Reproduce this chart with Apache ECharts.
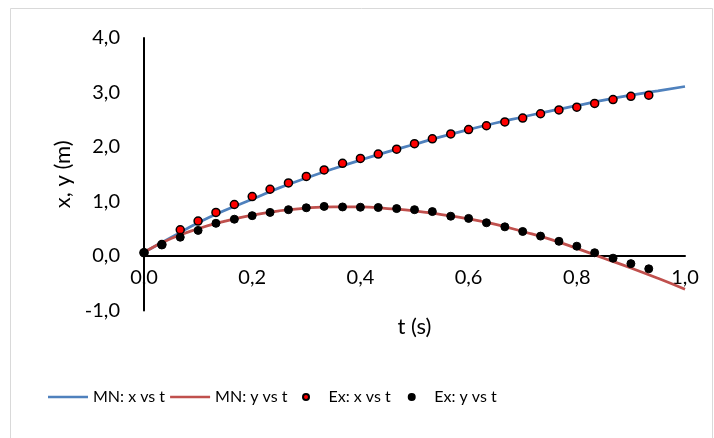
<!DOCTYPE html>
<html>
<head>
<meta charset="utf-8">
<title>x, y vs t</title>
<script src="https://cdn.jsdelivr.net/npm/echarts@6/dist/echarts.min.js"></script>
<style>
  html, body { margin: 0; padding: 0; background: #fff; }
  #chart { width: 714px; height: 438px; }
</style>
</head>
<body>
<div id="chart"></div>
<script>
// model curves (MN), sampled every 0.05 s
var tModel = [0, 0.05, 0.1, 0.15, 0.2, 0.25, 0.3, 0.35, 0.4, 0.45, 0.5,
              0.55, 0.6, 0.65, 0.7, 0.75, 0.8, 0.85, 0.9, 0.95, 1.0];
var xModel = [0.07, 0.34, 0.61, 0.84, 1.04, 1.25, 1.43, 1.60, 1.76, 1.91, 2.05,
              2.19, 2.32, 2.44, 2.55, 2.66, 2.76, 2.86, 2.95, 3.03, 3.11];
var yModel = [0.07, 0.32, 0.50, 0.64, 0.75, 0.83, 0.88, 0.90, 0.90, 0.87, 0.83,
              0.76, 0.68, 0.58, 0.45, 0.31, 0.14, -0.04, -0.22, -0.41, -0.61];

// experimental points (Ex), one frame every 1/30 s
var tExp = [0, 0.033, 0.067, 0.1, 0.133, 0.167, 0.2, 0.233, 0.267, 0.3,
            0.333, 0.367, 0.4, 0.433, 0.467, 0.5, 0.533, 0.567, 0.6, 0.633,
            0.667, 0.7, 0.733, 0.767, 0.8, 0.833, 0.867, 0.9, 0.933];
var xExp = [0.06, 0.21, 0.48, 0.64, 0.80, 0.945, 1.09, 1.225, 1.34, 1.46,
            1.58, 1.70, 1.79, 1.87, 1.96, 2.06, 2.15, 2.24, 2.32, 2.39,
            2.46, 2.53, 2.61, 2.68, 2.73, 2.80, 2.87, 2.93, 2.95];
var yExp = [0.06, 0.205, 0.345, 0.47, 0.60, 0.675, 0.74, 0.80, 0.85, 0.885,
            0.91, 0.90, 0.895, 0.89, 0.87, 0.85, 0.815, 0.73, 0.69, 0.61,
            0.535, 0.45, 0.365, 0.27, 0.18, 0.06, -0.04, -0.14, -0.235];

var seriesNames = ['MN: x vs t', 'MN: y vs t', 'Ex: x vs t', 'Ex: y vs t'];

function pairs(ts, vs) {
  return ts.map(function (t, i) { return [t, vs[i]]; });
}
function comma(v) {
  return v.toFixed(1).replace('.', ',');
}

var font = 'Lato';
var lineIcon = 'path://M0,0H40V2.5H0Z';
var legendText = { fontSize: 16, color: '#000', fontFamily: font };
var chart = echarts.init(document.getElementById('chart'));

var option = {
  animation: false,
  backgroundColor: '#fff',
  textStyle: { fontFamily: font },
  graphic: [{
    type: 'rect',
    shape: { x: 10.5, y: 8.5, width: 702, height: 440 },
    style: { fill: 'none', stroke: '#d9d9d9', lineWidth: 1 },
    silent: true
  }],
  grid: { left: 144, right: 29, top: 38, bottom: 127.5 },
  xAxis: {
    type: 'value',
    min: 0, max: 1, interval: 0.2,
    position: 'bottom',
    offset: -54.5,   // puts the axis (line, labels, title) at y = 0
    name: 't (s)',
    nameLocation: 'middle',
    nameGap: 60,
    nameTextStyle: { fontSize: 22, color: '#000', fontFamily: font },
    axisLine: { onZero: false, lineStyle: { color: '#000', width: 2 } },
    axisTick: { show: false },
    splitLine: { show: false },
    axisLabel: { margin: 12, fontSize: 20, color: '#000', fontFamily: font, formatter: comma }
  },
  yAxis: {
    type: 'value',
    min: -1, max: 4, interval: 1,
    name: 'x, y (m)',
    nameLocation: 'middle',
    nameGap: 70,
    nameTextStyle: { fontSize: 22, color: '#000', fontFamily: font },
    axisLine: { show: true, onZero: false, lineStyle: { color: '#000', width: 2 } },
    axisTick: { show: false },
    splitLine: { show: false },
    axisLabel: { margin: 24, fontSize: 20, color: '#000', fontFamily: font, formatter: comma }
  },
  legend: [
    {
      left: 43,
      top: 384,
      itemGap: 5,
      itemWidth: 40,
      itemHeight: 6,
      symbolKeepAspect: true,
      textStyle: legendText,
      data: [
        { name: seriesNames[0], icon: lineIcon },
        { name: seriesNames[1], icon: lineIcon }
      ]
    },
    {
      left: 297,
      top: 384,
      itemGap: 17,
      itemWidth: 35,
      itemHeight: 6,
      textStyle: legendText,
      data: [
        { name: seriesNames[2], icon: 'circle' },
        { name: seriesNames[3], icon: 'circle' }
      ]
    }
  ],
  series: [
    {
      name: seriesNames[0],
      type: 'line',
      smooth: true,
      showSymbol: false,
      symbol: 'none',
      data: pairs(tModel, xModel),
      lineStyle: { color: '#4f81bd', width: 2.75 },
      itemStyle: { color: '#4f81bd' },
      z: 2
    },
    {
      name: seriesNames[1],
      type: 'line',
      smooth: true,
      showSymbol: false,
      symbol: 'none',
      data: pairs(tModel, yModel),
      lineStyle: { color: '#c0504d', width: 2.75 },
      itemStyle: { color: '#c0504d' },
      z: 2
    },
    {
      name: seriesNames[2],
      type: 'scatter',
      symbol: 'circle',
      symbolSize: 8,
      data: pairs(tExp, xExp),
      itemStyle: { color: '#ff0000', borderColor: '#000', borderWidth: 1.5, opacity: 1 },
      z: 3
    },
    {
      name: seriesNames[3],
      type: 'scatter',
      symbol: 'circle',
      symbolSize: 8,
      data: pairs(tExp, yExp),
      itemStyle: { color: '#000', borderColor: '#000', borderWidth: 1, opacity: 1 },
      z: 4
    }
  ]
};

chart.setOption(option);
</script>
</body>
</html>
